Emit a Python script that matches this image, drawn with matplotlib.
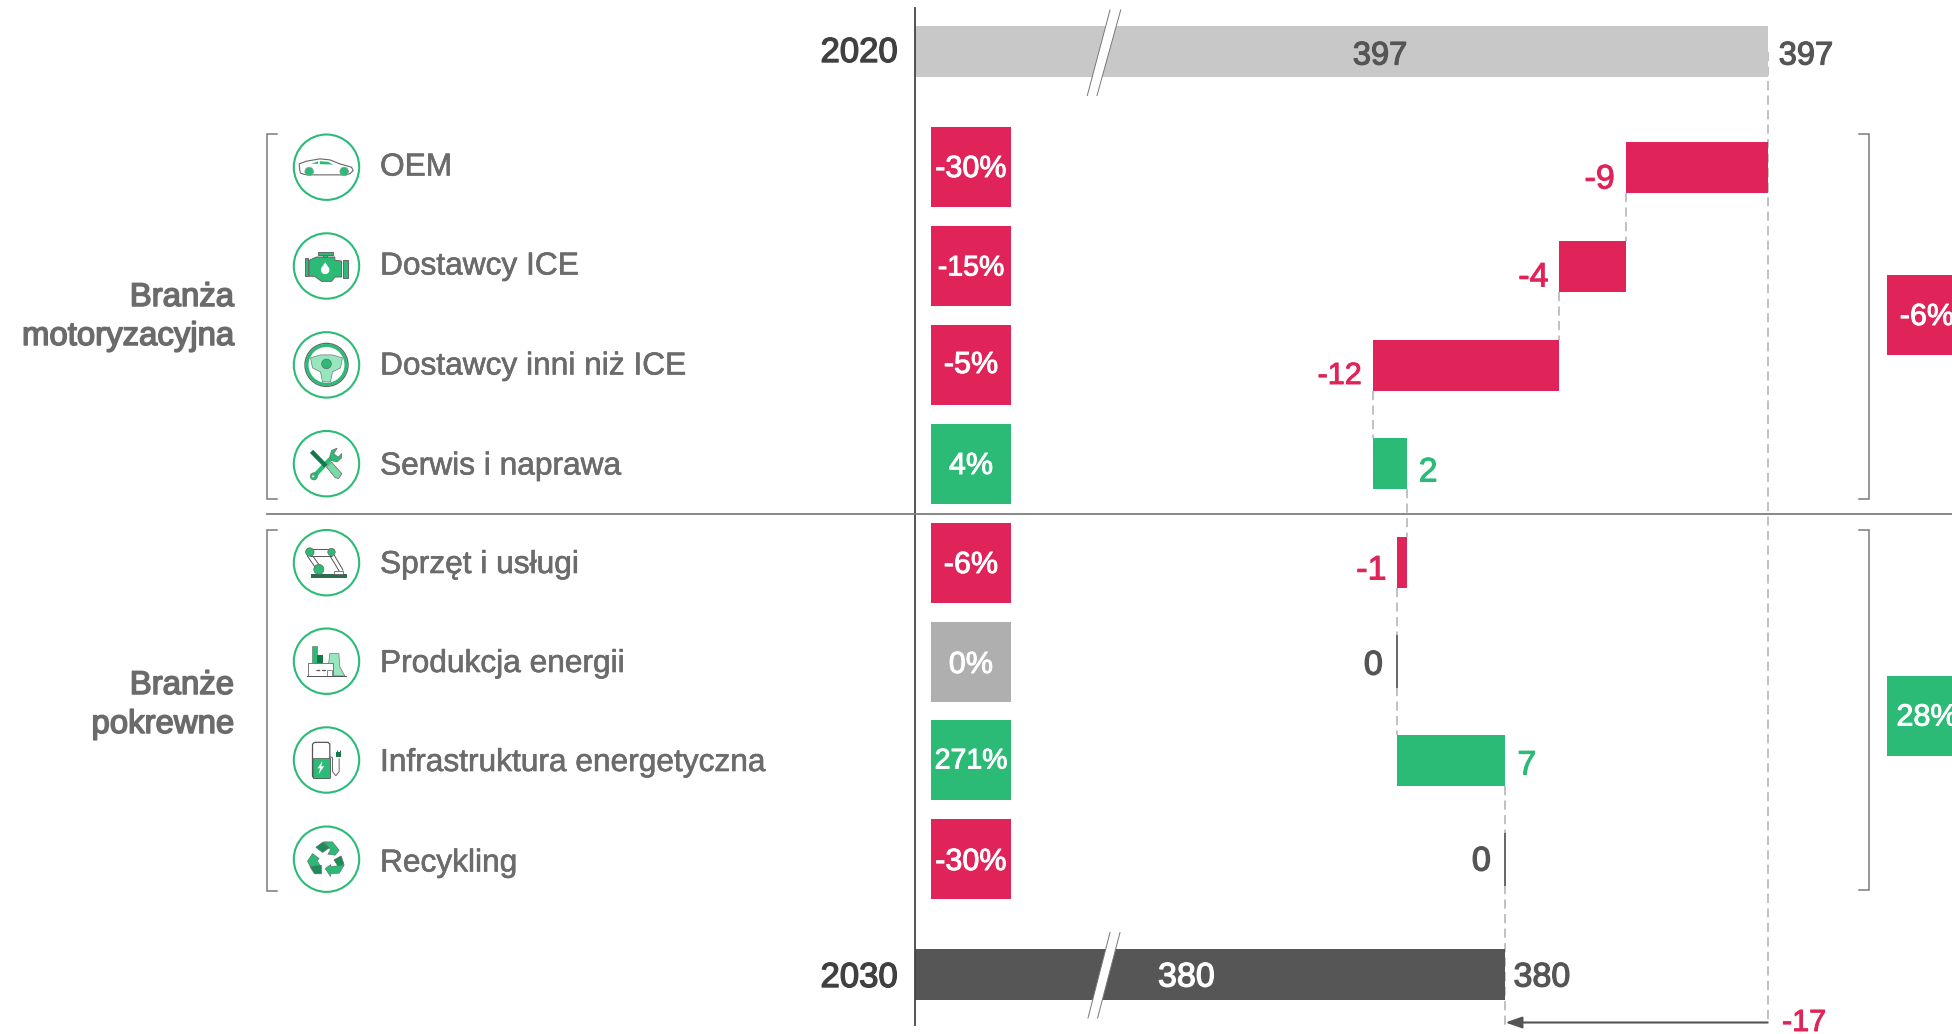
import numpy as np
import matplotlib
matplotlib.use("Agg")
import matplotlib.pyplot as plt
import matplotlib.patheffects as pe
from matplotlib.patches import Polygon, Circle, Rectangle, FancyBboxPatch

# ---------- data ----------
categories = ["OEM", "Dostawcy ICE", "Dostawcy inni niż ICE", "Serwis i naprawa",
              "Sprzęt i usługi", "Produkcja energii", "Infrastruktura energetyczna", "Recykling"]
deltas = [-9.2, -4.3, -12.1, 2.2, -0.6, 0.0, 7.0, 0.0]
delta_labels = ["-9", "-4", "-12", "2", "-1", "0", "7", "0"]
pct_labels = ["-30%", "-15%", "-5%", "4%", "-6%", "0%", "271%", "-30%"]
total_years = ["2020", "2030"]
total_values = [397, 380]
total_change = "-17"
groups = ["Branża\nmotoryzacyjna", "Branże\npokrewne"]
group_pct = ["-6%", "28%"]

# ---------- style ----------
RED, GREEN, LGREY, MGREY, DGREY = "#E0245A", "#2BBB77", "#C8C8C8", "#AFAFAF", "#565656"
TXT, DGREEN, PGREEN = "#6B6B6B", "#15784C", "#98E6BE"
plt.rcParams["font.family"] = ["Liberation Sans", "DejaVu Sans"]
W, H = 1952, 1034
PXU = 15.43          # px per value unit
ROW = 98.8           # px per row
ROW0 = 167.5         # px of first row

fig = plt.figure(figsize=(W / 100, H / 100), dpi=100, facecolor="white")
ax = fig.add_axes([0, 0, 1, 1], zorder=1)
ax.set_xlim(total_values[1] - 1505.4 / PXU, total_values[1] + (W - 1505.4) / PXU)
ax.set_ylim((H - ROW0) / ROW, -ROW0 / ROW)
ax.axis("off")
px = fig.add_axes([0, 0, 1, 1], zorder=2)
px.set_xlim(0, W)
px.set_ylim(H, 0)
px.axis("off")
px.patch.set_alpha(0)

def vx(v):
    return 1505.4 + (v - total_values[1]) * PXU

def T(x, y, s, color, ha="left", fs=24, stroke=0.7, z=5, **kw):
    t = px.text(x, y, s, color=color, ha=ha, va="center_baseline", fontsize=fs, zorder=z, **kw)
    if stroke:
        t.set_path_effects([pe.withStroke(linewidth=stroke, foreground=color)])
    return t

y2020 = (51.5 - ROW0) / ROW
y2030 = (974.2 - ROW0) / ROW
BH = 51 / ROW
AXL = total_values[1] - (1505.4 - 914.6) / PXU

DASH = dict(color="#B0B0B0", lw=1.1, dashes=(6, 3.5), zorder=1)
levels = np.concatenate([[total_values[0]], total_values[0] + np.cumsum(deltas)])
ax.plot([total_values[0]] * 2, [y2020, (1022 - ROW0) / ROW], **DASH)
for i in range(len(deltas) - 1):
    ax.plot([levels[i + 1]] * 2, [i + BH / 2, i + 1 - BH / 2], **DASH)
ax.plot([levels[-1]] * 2, [7 + BH / 2, (1028 - ROW0) / ROW], **DASH)

ax.barh([y2020], [total_values[0] - AXL], left=AXL, height=BH, color=LGREY, zorder=2)
ax.barh([y2030], [total_values[1] - AXL], left=AXL, height=BH, color=DGREY, zorder=2)

for i, d in enumerate(deltas):
    if d == 0:
        ax.plot([levels[i]] * 2, [i - BH / 2, i + BH / 2], color="#666666", lw=1.4, zorder=3)
    else:
        ax.barh([i], [abs(d)], left=min(levels[i], levels[i + 1]), height=BH,
                color=RED if d < 0 else GREEN, zorder=3)

# axis breaks
for ytop, xs in ((10, (1110, 1120.7, 1097, 1087.3)), (932.5, (1110, 1120, 1097.6, 1088))):
    ybot = ytop + 85.5
    px.add_patch(Polygon([(xs[0], ytop), (xs[1], ytop), (xs[2], ybot), (xs[3], ybot)],
                         fc="white", ec="none", zorder=3))
    px.plot([xs[0], xs[3]], [ytop, ybot], color="#777777", lw=0.7, zorder=3)
    px.plot([xs[1], xs[2]], [ytop, ybot], color="#777777", lw=0.7, zorder=3)

px.plot([914.6, 914.6], [8, 1025], color="#444444", lw=1.3, zorder=4)
px.plot([267, W], [513.7, 513.7], color="#7F7F7F", lw=1.3, zorder=4)

def bracket(x0, x1, y0, y1):
    px.plot([x1, x0, x0, x1], [y0, y0, y1, y1], color="#7A7A7A", lw=1.1, zorder=4,
            solid_joinstyle="miter")
bracket(267, 276.5, 134, 499)
bracket(267, 276.5, 530, 891)
bracket(1869, 1859, 134, 499)
bracket(1869, 1859, 530, 890)

PCTCOL = [RED, RED, RED, GREEN, RED, MGREY, GREEN, RED]
PCTY = [167, 266, 365, 464, 563, 662, 760, 859]
PCTLY = [165.5, 265.5, 361.5, 462.5, 561.5, 661.5, 758.5, 858.5]
for lab, c, yc, yl in zip(pct_labels, PCTCOL, PCTY, PCTLY):
    px.add_patch(Rectangle((930.8, yc - 40), 80.1, 80, fc=c, ec="none", zorder=3))
    T(971, yl, lab, "white", ha="center", fs=20.5 if "1" in lab else 22)
for lab, c, yc in zip(group_pct, [RED, GREEN], [315, 715.5]):
    px.add_patch(Rectangle((1887, yc - 40), 80, 80, fc=c, ec="none", zorder=3))
    T(1927, yc - 1.5, lab, "white", ha="center", fs=22, clip_on=False)

VY = [176.5, 274.5, 372.5, 469.5, 567.5, 662.5, 762.5, 858.5]
for i, (lab, d, yc) in enumerate(zip(delta_labels, deltas, VY)):
    lo, hi = min(levels[i], levels[i + 1]), max(levels[i], levels[i + 1])
    fs = 22 if "1" in lab and len(lab) > 2 else 24.5
    if d > 0:
        T(vx(hi) + 12, yc, lab, GREEN, fs=fs)
    elif d < 0:
        T(vx(lo) - 11, yc, lab, RED, ha="right", fs=fs)
    else:
        T(vx(lo) - 14.5, yc, lab, "#555555", ha="right", fs=fs, stroke=1.0)

T(898, 49, total_years[0], "#404040", ha="right", fs=25, stroke=1.0)
T(898, 974, total_years[1], "#404040", ha="right", fs=25, stroke=1.0)
T(1380, 52.5, str(total_values[0]), "#555555", ha="center", fs=23.5, stroke=0.9)
T(1778.7, 52.5, str(total_values[0]), "#555555", fs=23.5, stroke=0.9)
T(1186.5, 974.5, str(total_values[1]), "white", ha="center", fs=24.5, stroke=0.9)
T(1513.5, 974.5, str(total_values[1]), "#555555", fs=24.5, stroke=0.9)
T(1782, 1019.5, total_change, RED, fs=22)
px.annotate("", xy=(vx(total_values[1]), 1022.5), xytext=(vx(total_values[0]), 1022.5), zorder=5,
            arrowprops=dict(arrowstyle="-|>,head_length=1.0,head_width=0.35", color="#555555", lw=1.5,
                            shrinkA=0, shrinkB=0))

LABY = [164, 263, 363, 463, 561.5, 660.5, 759.5, 860]
for lab, yc in zip(categories, LABY):
    T(380, yc, lab, TXT, fs=22.8, stroke=0.45)
for lab, yc in zip(groups, [313.5, 701.5]):
    a, b = lab.split("\n")
    T(234, yc - 19.5, a, TXT, ha="right", fs=23.7, stroke=1.1)
    T(234, yc + 19.5, b, TXT, ha="right", fs=23.7, stroke=1.1)

# ---------- icons ----------
ICY = [167.2, 266, 364.9, 463.7, 562.7, 661.2, 760, 859.2]
IE = "#666666"

def poly(pts, fc, ec="none", lw=0.6, z=6):
    px.add_patch(Polygon(pts, closed=True, fc=fc, ec=ec, lw=lw, zorder=z))

def rect(p, q, fc, ec="none", lw=0.7, z=6):
    px.add_patch(Rectangle(p, q[0] - p[0], q[1] - p[1], fc=fc, ec=ec, lw=lw, zorder=z))

def circ(p, r, fc, ec="none", lw=0.6, z=6):
    px.add_patch(Circle(p, r, fc=fc, ec=ec, lw=lw, zorder=z))

def line(pts, c, lw, z=6, **kw):
    xs, ys = zip(*pts)
    px.plot(xs, ys, color=c, lw=lw, zorder=z, solid_capstyle="butt", **kw)

def local(cx, cy, x0, y0):
    return lambda a, b: (cx + (a - x0) / 3, cy + (b - y0) / 3)

def car(cx, cy):
    f = local(cx, cy, 170, 140)
    poly([f(*p) for p in [(90, 150), (88, 130), (110, 122), (150, 115), (180, 118), (210, 130),
                          (245, 140), (250, 150), (240, 160), (215, 163), (135, 163), (105, 162), (92, 158)]],
         "white", IE, 0.8)
    poly([f(*p) for p in [(125, 130), (145, 122), (145, 130)]], GREEN)
    poly([f(*p) for p in [(150, 122), (175, 124), (190, 132), (150, 131)]], GREEN)
    for a in (118, 223):
        circ(f(a, 153), 4.3, GREEN, "#999999", 0.5, 7)

def engine(cx, cy):
    f = local(cx, cy, 170, 437)
    poly([f(*p) for p in [(118, 420), (140, 410), (195, 410), (195, 420), (215, 422), (215, 470), (195, 470),
                          (185, 483), (155, 483), (135, 468), (118, 468)]], GREEN, IE, 0.7)
    for a, b, c, d in [(145, 394, 188, 404), (160, 404, 170, 410), (105, 413, 113, 466), (218, 420, 234, 472)]:
        rect(f(a, b), f(c, d), GREEN, IE)
    circ(f(166, 449), 4.2, "white", z=7)
    poly([f(153, 446), f(166, 426), f(179, 446)], "white", z=7)

def wheel(cx, cy):
    circ((cx, cy), 21.5, "white", "#666666", 1.0)
    circ((cx, cy), 19.5, "white", GREEN, 2.2)
    d = [(-16, -7), (-6, -10), (6, -10), (16, -7), (14, 3), (6, 7), (4, 17), (-4, 17), (-6, 7), (-14, 3)]
    poly([(cx + a, cy + b) for a, b in d], PGREEN, "#777777", 0.5, 7)
    circ((cx, cy - 1), 4.8, GREEN, "#666666", 0.5, 8)

def tools(cx, cy):
    f = local(cx, cy, 110, 115)
    line([f(72, 153), f(130, 92)], GREEN, 3.2, z=6)
    poly([f(*p) for p in [(120, 92), (125, 75), (142, 68), (132, 85), (145, 95), (156, 84), (156, 97),
                          (142, 110), (125, 106)]], GREEN, IE, 0.4)
    circ(f(72, 153), 3.6, GREEN, IE, 0.4)
    circ(f(70, 153), 1.0, "white", z=7)
    poly([f(*p) for p in [(110, 125), (125, 110), (156, 145), (146, 160), (135, 156)]], "#7ADBA9", IE, 0.5, 7)
    line([f(65, 78), f(108, 122)], DGREEN, 3.2, z=8)

def robot(cx, cy):
    f = local(cx, cy, 110, 413)
    rect(f(62, 448), f(172, 458), "#2F6B4F")
    for p, q in [((60, 371), (125, 371)), ((60, 392), (125, 392)), ((52, 392), (78, 430)),
                 ((68, 392), (92, 425)), ((120, 392), (148, 438)), ((133, 390), (160, 436))]:
        line([f(*p), f(*q)], "#555555", 0.7)
    circ(f(60, 381), 4.2, GREEN, IE, 0.5, 7)
    circ(f(125, 381), 3.7, GREEN, IE, 0.5, 7)
    circ(f(87, 433), 5.0, GREEN, IE, 0.5, 7)
    rect(f(133, 437), f(160, 448), "white", "#666666", 0.6, 7)

def factory(cx, cy):
    f = local(cx, cy, 110, 108)
    rect(f(65, 63), f(80, 115), GREEN, IE, 0.4)
    rect(f(80, 88), f(98, 115), DGREEN)
    poly([f(*p) for p in [(120, 85), (147, 85), (150, 125), (165, 152), (112, 152)]], PGREEN, "#777777", 0.5)
    rect(f(55, 112), f(130, 152), "white", "#777777", 0.7, 7)
    line([f(78, 135), f(108, 135)], "#555555", 0.9, 8, dashes=(3, 1.5))
    rect(f(112, 135), f(125, 152), "white", "#777777", 0.6, 8)
    rect(f(50, 151), f(171, 156), "#555555", z=8)

def charger(cx, cy):
    f = local(cx, cy, 110, 405)
    x0, y0 = f(68, 352)
    x1, y1 = f(120, 460)
    px.add_patch(FancyBboxPatch((x0, y0), x1 - x0, y1 - y0, boxstyle="round,pad=0,rounding_size=3",
                                fc="white", ec="#555555", lw=0.9, zorder=6))
    rect(f(68, 400), f(120, 460), GREEN, "#555555", 0.5, 7)
    poly([f(*p) for p in [(98, 408), (83, 430), (91, 430), (86, 448), (103, 424), (94, 424)]], "white", z=8)
    line([f(120, 395), f(128, 398), f(128, 440), f(138, 452), f(148, 440), f(148, 400)], "#666666", 0.7)
    rect(f(137, 380), f(153, 396), DGREEN, z=7)
    line([f(141, 374), f(141, 380)], "#555555", 0.7)
    line([f(149, 374), f(149, 380)], "#555555", 0.7)

def recycle(cx, cy):
    f = local(cx, cy, 112, 112)
    poly([f(*p) for p in [(104, 60), (130, 60), (150, 85), (138, 100), (116, 97), (124, 84), (112, 68)]], GREEN, IE, 0.4)
    poly([f(*p) for p in [(80, 76), (102, 60), (120, 78), (100, 92)]], "#1E8C5A", IE, 0.4, 7)
    poly([f(*p) for p in [(55, 118), (70, 95), (90, 110), (84, 116), (92, 130), (62, 132)]], GREEN, IE, 0.4)
    poly([f(*p) for p in [(62, 134), (97, 130), (97, 156), (76, 156)]], "#1E8C5A", IE, 0.4, 7)
    poly([f(*p) for p in [(134, 114), (156, 102), (165, 128), (146, 132)]], "#1E8C5A", IE, 0.4, 7)
    poly([f(*p) for p in [(108, 140), (125, 128), (125, 134), (165, 130), (150, 154), (125, 156), (124, 164)]], GREEN, IE, 0.4)

icon_fns = [car, engine, wheel, tools, robot, factory, charger, recycle]
for fn, yc in zip(icon_fns, ICY):
    circ((326.5, yc), 32.7, "white", GREEN, 1.5, 5)
    fn(326.5, yc)

fig.savefig("out.png", dpi=100, facecolor="white")
